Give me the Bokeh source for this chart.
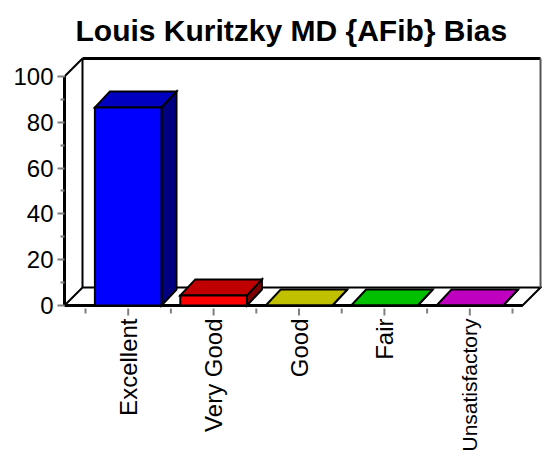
import numpy as np
from bokeh.plotting import figure
from bokeh.models import Range1d, LinearAxis, FixedTicker, Title, ColumnDataSource
from bokeh.core.properties import value
from bokeh.embed import file_html
from bokeh.resources import INLINE

# ---- data ----
categories = ["Excellent", "Very Good", "Good", "Fair", "Unsatisfactory"]
values = [86.5, 4.4, 0, 0, 0]
y_ticks = [0, 20, 40, 60, 80, 100]
title_text = "Louis Kuritzky MD {AFib} Bias"

# ---- styles ----
front_colors = ["#0000FF", "#FF0000", "#FFFF00", "#00FF00", "#FF00FF"]
top_colors = ["#0000C0", "#C00000", "#C0C000", "#00C000", "#C000C0"]
side_colors = ["#000080", "#800000", "#808000", "#008000", "#800080"]
label_sizes = ["24px", "24px", "24px", "24px", "21px"]
FONT = "Liberation Sans"

W, H = 542, 459
BL, BT = 64, 50
x0, x1 = -0.2459, 5.351
y0, y1 = -67.25, 111.35
sx = (W - BL) / (x1 - x0)      # px per x unit
sy = (H - BT) / (y1 - y0)      # px per y unit

p = figure(width=W, height=H, output_backend="svg", toolbar_location=None,
           x_range=Range1d(x0, x1), y_range=Range1d(y0, y1),
           min_border_left=BL, min_border_right=0, min_border_top=BT,
           min_border_bottom=0, x_axis_location=None, y_axis_location=None,
           background_fill_color="white", border_fill_color="white")
p.outline_line_color = None
p.grid.visible = False

p.title = Title(text=title_text, align="left", offset=11, text_font=FONT,
                text_font_size="30px", text_font_style="bold",
                text_color="black", vertical_align="top", standoff=4)

ymax = y_ticks[-1]
n = len(categories)
wdx, wdy = 18 / sx, 18 / sy       # wall depth
bdx, bdy = 15 / sx, 16 / sy       # bar depth
fl = x0
fr = n + 0.117

# back wall
p.patch([fl + wdx, fr + wdx, fr + wdx, fl + wdx],
        [wdy, wdy, ymax + wdy, ymax + wdy], fill_color="white", line_color=None)
# left wall
p.patch([fl, fl + wdx, fl + wdx, fl], [0, wdy, ymax + wdy, ymax],
        fill_color="white", line_color=None)
# floor
p.patch([fl, fr, fr + wdx, fl + wdx], [0, 0, wdy, wdy],
        fill_color="white", line_color="black", line_width=2, line_join="miter")
p.line([fl + wdx, fr + wdx], [ymax + wdy, ymax + wdy], line_color="black", line_width=3)
p.line([fl + wdx, fl + wdx], [wdy, ymax + wdy], line_color="black", line_width=2)
p.line([fr + wdx, fr + wdx], [wdy, ymax + wdy], line_color="#555555", line_width=2)
p.line([fl, fl + wdx], [ymax, ymax + wdy], line_color="black", line_width=2)
p.line([fl, fr], [0, 0], line_color="black", line_width=3)

# bars
centers = [i + 0.5 for i in range(n)]
hw = 0.39
side_src = ColumnDataSource(dict(
    xs=[[c + hw, c + hw + bdx, c + hw + bdx, c + hw] for c in centers],
    ys=[[0, bdy, v + bdy, v] for v in values],
    color=side_colors))
top_src = ColumnDataSource(dict(
    xs=[[c - hw, c + hw, c + hw + bdx, c - hw + bdx] for c in centers],
    ys=[[v, v, v + bdy, v + bdy] for v in values],
    color=top_colors))
front_src = ColumnDataSource(dict(
    left=[c - hw for c in centers], right=[c + hw for c in centers],
    top=values, bottom=[0] * n, color=front_colors))
p.patches("xs", "ys", source=side_src, fill_color="color", line_color="black",
          line_width=2, line_join="miter")
p.patches("xs", "ys", source=top_src, fill_color="color", line_color="black",
          line_width=2, line_join="miter")
p.quad(left="left", right="right", top="top", bottom="bottom", source=front_src,
       fill_color="color", line_color="black", line_width=2, line_join="miter")

# category ticks and labels
p.segment(x0=centers, y0=[-3 / sy] * n, x1=centers, y1=[-10 / sy] * n,
          line_color="#808080", line_width=2)
bounds = list(range(n + 1))
p.segment(x0=bounds, y0=[-3 / sy] * (n + 1), x1=bounds, y1=[-8 / sy] * (n + 1),
          line_color="#808080", line_width=2)
label_src = ColumnDataSource(dict(x=centers, y=[-13 / sy] * n, text=categories,
                                  size=label_sizes))
p.text(x="x", y="y", text="text", source=label_src, angle=np.pi / 2,
       text_align="right", text_baseline="middle", text_font=value(FONT),
       text_font_size="size", text_color="black")

# y axis
minor = [(a + b) / 2 for a, b in zip(y_ticks[:-1], y_ticks[1:])]
yax = LinearAxis(ticker=FixedTicker(ticks=y_ticks, minor_ticks=minor),
                 bounds=(y_ticks[0], ymax))
yax.axis_line_width = 3
yax.axis_line_color = "black"
yax.major_tick_line_color = "#808080"
yax.major_tick_line_width = 2
yax.major_tick_out = 7
yax.major_tick_in = 0
yax.minor_tick_line_color = "#808080"
yax.minor_tick_line_width = 2
yax.minor_tick_out = 4
yax.minor_tick_in = 0
yax.major_label_text_font = FONT
yax.major_label_text_font_size = "24px"
yax.major_label_text_color = "black"
yax.major_label_standoff = 4
p.add_layout(yax, "left")

open("out.html", "w").write(file_html(p, INLINE))
